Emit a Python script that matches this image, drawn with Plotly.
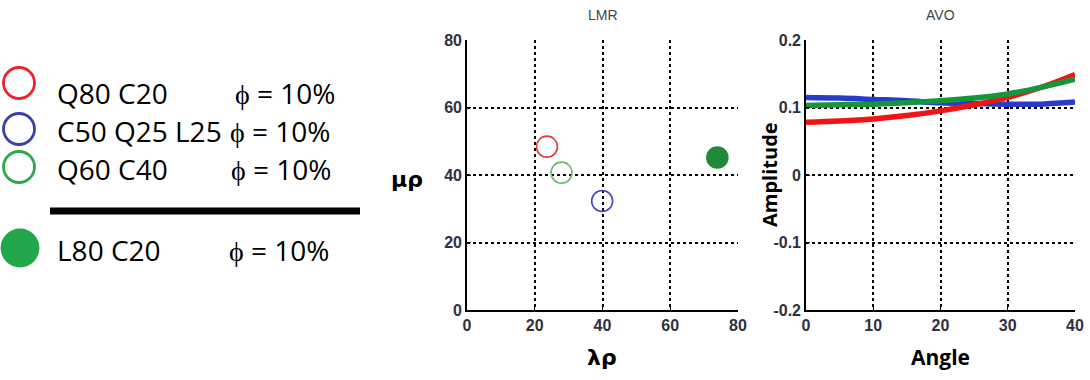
import plotly.graph_objects as go

W, H = 1090, 380

# ---- data ----
lmr_names = ["Q80 C20", "C50 Q25 L25", "Q60 C40", "L80 C20"]
lmr_lambda_rho = [23.6, 39.9, 27.9, 73.9]
lmr_mu_rho = [48.4, 32.3, 40.7, 45.2]
lmr_colors = ["#e8393c", "#4a48c0", "#6cb86c", "#1f8a3a"]
lmr_filled = [False, False, False, True]

avo_angle = [0, 5, 10, 15, 20, 25, 30, 35, 40]
avo_red = [0.078, 0.080, 0.083, 0.088, 0.095, 0.104, 0.115, 0.130, 0.149]
avo_green = [0.103, 0.104, 0.105, 0.107, 0.110, 0.114, 0.120, 0.130, 0.142]
avo_blue = [0.115, 0.114, 0.112, 0.110, 0.107, 0.106, 0.105, 0.105, 0.108]

legend_labels = ["Q80 C20", "C50 Q25 L25", "Q60 C40", "L80 C20"]
legend_phi = ["ϕ = 10%", "ϕ = 10%", "ϕ = 10%", "ϕ = 10%"]
legend_colors = ["#e8262a", "#3b3fa8", "#2ea84a", "#22a84a"]
legend_filled = [False, False, False, True]

lmr_ticks = [0, 20, 40, 60, 80]
avo_xticks = [0, 10, 20, 30, 40]
avo_yticks = [-0.2, -0.1, 0, 0.1, 0.2]
avo_ytext = ["-0.2", "-0.1", "0", "0.1", "0.2"]

# ---- layout positions (pixels) ----
leg_marker_xy = [(19, 83), (19, 129), (19, 167), (20, 248)]
leg_text_y = [93, 131, 169, 250]
leg_phi_x = [233, 228, 229, 227]

fig = go.Figure()

# LMR scatter
for i in range(len(lmr_names)):
    fig.add_trace(go.Scatter(
        x=[lmr_lambda_rho[i]], y=[lmr_mu_rho[i]], mode="markers",
        marker=dict(size=21,
                    symbol="circle" if lmr_filled[i] else "circle-open",
                    color=lmr_colors[i], line=dict(width=1.6, color=lmr_colors[i])),
        xaxis="x", yaxis="y", showlegend=False))

# AVO lines
for ys, c in [(avo_blue, "#2a3ac8"), (avo_red, "#f01414"), (avo_green, "#16963a")]:
    fig.add_trace(go.Scatter(x=avo_angle, y=ys, mode="lines", line=dict(color=c, width=5.5, shape="spline"),
                             xaxis="x2", yaxis="y2", showlegend=False))

# legend markers on a hidden pixel axis
for i in range(len(legend_labels)):
    mx, my = leg_marker_xy[i]
    fig.add_trace(go.Scatter(
        x=[mx], y=[my], mode="markers",
        marker=dict(size=36 if legend_filled[i] else 31,
                    symbol="circle" if legend_filled[i] else "circle-open",
                    color=legend_colors[i], line=dict(width=2.8, color=legend_colors[i])),
        xaxis="x3", yaxis="y3", showlegend=False))

tickfont = dict(family="Liberation Sans Narrow, Liberation Sans", size=16, color="#30303e", weight="bold")
grid = dict(showgrid=True, gridcolor="black", gridwidth=1.6, griddash="3px,3px",
            zeroline=False, showline=True, linecolor="black", linewidth=1.6,
            ticks="inside", ticklen=4, tickcolor="black", tickfont=tickfont, automargin=False)

def px(x):
    return x / W

def py(y):
    return 1 - y / H

fig.update_layout(
    width=W, height=H, margin=dict(l=0, r=0, t=0, b=0, pad=0, autoexpand=False),
    paper_bgcolor="white", plot_bgcolor="white",
    xaxis=dict(domain=[px(467), px(738)], range=[0, 80], tickvals=lmr_ticks, anchor="y", **grid),
    yaxis=dict(domain=[py(310), py(40)], range=[0, 80], tickvals=lmr_ticks, anchor="x", **grid),
    xaxis2=dict(domain=[px(806), px(1075)], range=[0, 40], tickvals=avo_xticks, anchor="y2", **grid),
    yaxis2=dict(domain=[py(310), py(40)], range=[-0.2, 0.2], tickvals=avo_yticks, ticktext=avo_ytext,
                anchor="x2", **grid),
    xaxis3=dict(domain=[0, px(380)], range=[0, 380], visible=False, anchor="y3", automargin=False),
    yaxis3=dict(domain=[0, 1], range=[H, 0], visible=False, anchor="x3", automargin=False),
)

ann = []
legfont = dict(family="Open Sans", size=28, color="black")
for i in range(len(legend_labels)):
    ann.append(dict(x=px(55), y=py(leg_text_y[i]), xref="paper", yref="paper", text=legend_labels[i],
                    showarrow=False, xanchor="left", yanchor="middle", font=legfont))
    ann.append(dict(x=px(leg_phi_x[i]), y=py(leg_text_y[i]), xref="paper", yref="paper", text=legend_phi[i],
                    showarrow=False, xanchor="left", yanchor="middle", font=legfont))

def label(x, y, text, font, angle=0):
    ann.append(dict(x=px(x), y=py(y), xref="paper", yref="paper", text=text, showarrow=False,
                    xanchor="center", yanchor="middle", textangle=angle, font=font))

titlefont = dict(family="Liberation Sans", size=14, color="#444")
label(603, 15, "LMR", titlefont)
label(940, 15, "AVO", titlefont)
label(407, 180, "<b>μρ</b>", dict(family="DejaVu Sans", size=22, color="black"))
label(602, 357, "<b>λρ</b>", dict(family="DejaVu Sans", size=22, color="black"))
label(769, 175, "<b>Amplitude</b>", dict(family="Open Sans", size=20, color="black"), -90)
label(940, 357, "<b>Angle</b>", dict(family="Open Sans", size=21, color="black"))
fig.update_layout(annotations=ann)

fig.add_shape(type="line", xref="paper", yref="paper", x0=px(50), x1=px(360), y0=py(211), y1=py(211),
              line=dict(color="black", width=7))

fig.write_html("out.html", config={"displayModeBar": False},
               post_script="document.body.style.margin='0';document.body.style.overflow='hidden';")
